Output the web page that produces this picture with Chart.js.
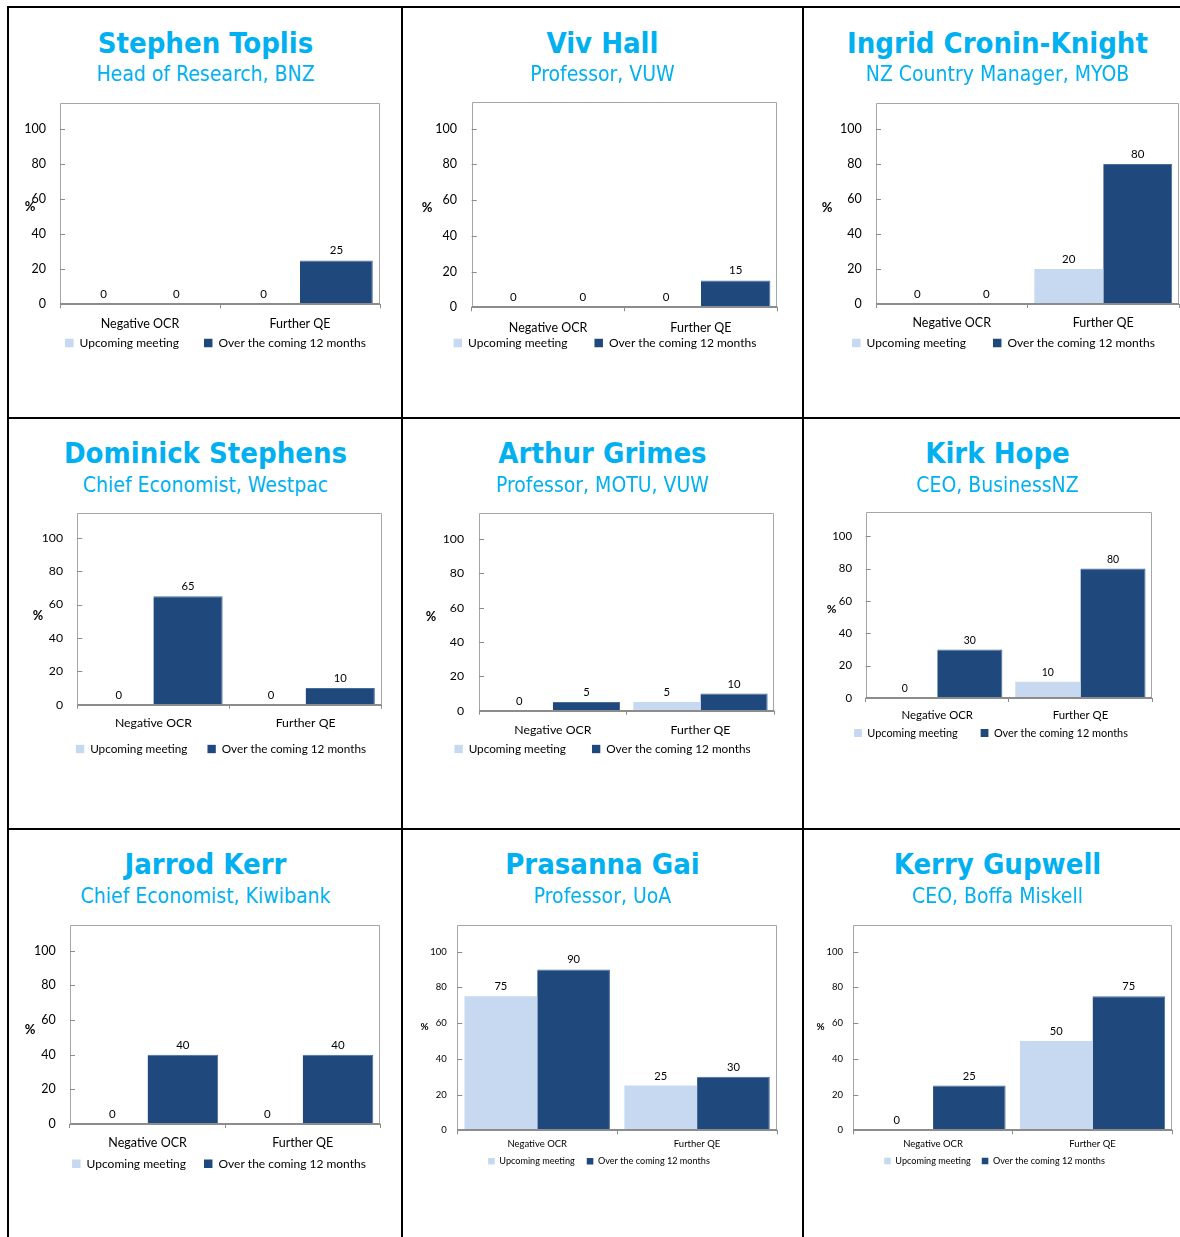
<!DOCTYPE html>
<html><head><meta charset="utf-8">
<script src="https://cdn.jsdelivr.net/npm/chart.js@4.4.1/dist/chart.umd.min.js"></script>
<style>
html,body{margin:0;padding:0;background:#fff;overflow:hidden;width:1180px;height:1237px;}
#page{position:relative;width:1180px;height:1237px;overflow:hidden;}
.ttl{position:absolute;text-align:center;color:#00B0F0;font-family:"DejaVu Sans Condensed","DejaVu Sans",sans-serif;font-weight:bold;font-size:29px;line-height:29px;white-space:nowrap;}
.sub{position:absolute;text-align:center;color:#00B0F0;font-family:"DejaVu Sans Condensed","DejaVu Sans",sans-serif;font-size:21px;line-height:21px;white-space:nowrap;}
.ln{position:absolute;background:#000;}
canvas{position:absolute;}
</style></head><body><div id="page"></div>
<script>
// ---- data ----
const names = ['Stephen Toplis','Viv Hall','Ingrid Cronin-Knight','Dominick Stephens','Arthur Grimes','Kirk Hope','Jarrod Kerr','Prasanna Gai','Kerry Gupwell'];
const roles = ['Head of Research, BNZ','Professor, VUW','NZ Country Manager, MYOB','Chief Economist, Westpac','Professor, MOTU, VUW','CEO, BusinessNZ','Chief Economist, Kiwibank','Professor, UoA','CEO, Boffa Miskell'];
const categories = ['Negative OCR','Further QE'];
const seriesNames = ['Upcoming meeting','Over the coming 12 months'];
const upcomingMeeting = [[0,0],[0,0],[0,20],[0,0],[0,5],[0,10],[0,0],[75,25],[0,50]];
const next12Months    = [[0,25],[0,15],[0,80],[65,10],[5,10],[30,80],[40,40],[90,30],[25,75]];
const yTicks = [0,20,40,60,80,100];
const yMax = 115;
const yLabel = '%';

// ---- layout (positions only) ----
const colLeft = [8,402,803], colWidth = [395,401,389];
const rowTitleBase = [53.5,463,874], rowSubBase = [81.7,493,904];
const layout = [
 {L:60,T:102.7,R:380,B:304.3,legCx:215.5,legCy:343,catCy:324,tickPad:14,legGap:25,pctX:30,pctY:207,s:1},
 {L:471.7,T:101.7,R:777.3,B:307.3,legCx:605,legCy:343,catCy:327.7,tickPad:14.7,legGap:27,pctX:427,pctY:208,s:1},
 {L:876,T:102.7,R:1179,B:304,legCx:1003.5,legCy:343,catCy:323,tickPad:14.3,legGap:27,pctX:827,pctY:208,s:1},
 {L:77.3,T:512.7,R:381.7,B:704.7,legCx:221,legCy:749,catCy:723,tickPad:14.3,legGap:20,pctX:38,pctY:616,s:0.98},
 {L:479,T:513,R:774.3,B:710.7,legCx:602.5,legCy:749,catCy:729.7,tickPad:15,legGap:26,pctX:431,pctY:617,s:0.98},
 {L:865.7,T:512,R:1152,B:698,legCx:991,legCy:733,catCy:715.7,tickPad:13.7,legGap:23,pctX:831.5,pctY:608.7,s:0.91},
 {L:70,T:924.7,R:380.3,B:1124,legCx:219,legCy:1163.7,catCy:1143,tickPad:14.3,legGap:18,pctX:30,pctY:1030,s:1},
 {L:457.3,T:924.7,R:777,B:1130.3,legCx:599,legCy:1161.3,catCy:1144,tickPad:10.6,legGap:12,pctX:424.5,pctY:1027,s:0.76},
 {L:853.3,T:924.7,R:1172.3,B:1130.3,legCx:994.5,legCy:1161,catCy:1144,tickPad:10.3,legGap:11,pctX:820.5,pctY:1027,s:0.76}
];
const FONT = 'Lato, "Open Sans", sans-serif';
const LIGHT = '#C6D9F1', DARK = '#1F497D', DARK_EDGE = '#4A6C98', AXIS = '#8C8C8C', FRAME = '#A6A6A6';

const page = document.getElementById('page');
function addLine(x,y,w,h){const d=document.createElement('div');d.className='ln';Object.assign(d.style,{left:x+'px',top:y+'px',width:w+'px',height:h+'px'});page.appendChild(d);}

const deco = {
  id:'deco',
  beforeDraw(chart){
    const sx = chart.scales.x;
    if (sx && typeof sx._computeLabelArea === 'function') sx._computeLabelArea = function(){ return undefined; };
  },
  afterDatasetsDraw(chart, args, o){
    const {ctx, chartArea:a, scales:{y}} = chart;
    ctx.save();
    ctx.strokeStyle = FRAME; ctx.lineWidth = 1;
    ctx.beginPath();
    ctx.moveTo(Math.round(a.left)+0.5, a.bottom); ctx.lineTo(Math.round(a.left)+0.5, Math.round(a.top)+0.5);
    ctx.lineTo(Math.round(a.right)-0.5, Math.round(a.top)+0.5); ctx.lineTo(Math.round(a.right)-0.5, a.bottom);
    ctx.stroke();
    ctx.strokeStyle = AXIS;
    y.ticks.forEach(t=>{const py=Math.round(y.getPixelForValue(t.value))+0.5;ctx.beginPath();ctx.moveTo(a.left,py);ctx.lineTo(a.left+5,py);ctx.stroke();});
    ctx.lineWidth = 2; ctx.beginPath(); ctx.moveTo(a.left, Math.round(a.bottom)); ctx.lineTo(a.right, Math.round(a.bottom)); ctx.stroke();
    ctx.fillStyle = '#000'; ctx.textAlign = 'center'; ctx.textBaseline = 'bottom';
    ctx.font = o.valFs + 'px ' + FONT;
    chart.data.datasets.forEach((ds,di)=>{
      chart.getDatasetMeta(di).data.forEach((bar,j)=>{ ctx.fillText(String(ds.data[j]), bar.x, bar.y - 4); });
    });
    ctx.font = 'bold ' + o.pctFs + 'px ' + FONT; ctx.textBaseline = 'middle';
    ctx.fillText(yLabel, o.pctX, o.pctY);
    ctx.restore();
  }
};

names.forEach((nm,i)=>{
  const c = i%3, r = Math.floor(i/3), g = layout[i];
  const t = document.createElement('div'); t.className='ttl'; t.textContent = nm;
  Object.assign(t.style,{left:colLeft[c]+'px',width:colWidth[c]+'px',top:(rowTitleBase[r]-24.5)+'px'}); page.appendChild(t);
  const sb = document.createElement('div'); sb.className='sub'; sb.textContent = roles[i];
  Object.assign(sb.style,{left:colLeft[c]+'px',width:colWidth[c]+'px',top:(rowSubBase[r]-17.8)+'px'}); page.appendChild(sb);

  const s = g.s;
  const tickFs = 12.5*s, catFs = 12.5*s, legFs = 12*s, valFs = 11.5*(s<0.8?0.97:s), pctFs = 13*s;
  const x0 = colLeft[c] + 3, y0 = Math.floor(g.T - 30), padT = g.T - y0;
  const w = Math.round(2*(g.legCx - x0));
  const rightW = w - (g.R - x0);
  const yW = g.L - x0;
  const legTop = g.legCy - g.legGap - legFs/2;
  const hRaw = g.legCy + legFs/2 + 10 - y0;
  const h = Math.ceil(hRaw);
  const padB = h - hRaw;
  const xH = legTop - g.B;
  const catPad = g.catCy - g.B - 4 - catFs*1.2/2;

  const cv = document.createElement('canvas');
  cv.width = w; cv.height = h;
  Object.assign(cv.style,{left:x0+'px',top:y0+'px',width:w+'px',height:h+'px'});
  page.appendChild(cv);

  new Chart(cv.getContext('2d'), {
    type:'bar',
    data:{
      labels: categories,
      datasets:[
        {label:seriesNames[0], data:upcomingMeeting[i], backgroundColor:LIGHT, borderWidth:0, yAxisID:'y'},
        {label:seriesNames[1], data:next12Months[i], backgroundColor:DARK, borderColor:DARK_EDGE, borderWidth:{top:1,right:1,left:0,bottom:0}, borderSkipped:'bottom', yAxisID:'y'}
      ]
    },
    options:{
      responsive:false, animation:false, devicePixelRatio:1,
      categoryPercentage:0.91, barPercentage:1.0,
      layout:{padding:{left:0, right:0, top:padT, bottom:padB}},
      plugins:{
        tooltip:{enabled:false},
        legend:{position:'bottom', align:'center',
          labels:{boxWidth:8*s+0.5, boxHeight:8*s+0.5, padding:g.legGap, color:'#000', font:{family:FONT, size:legFs},
            generateLabels(chart){
              return chart.data.datasets.map((ds,k)=>({text:ds.label, fillStyle:ds.backgroundColor, strokeStyle:ds.backgroundColor, lineWidth:0, hidden:false, datasetIndex:k, fontColor:'#000'}));
            }}},
        deco:{valFs:valFs, pctFs:pctFs, pctX:g.pctX - x0, pctY:g.pctY - y0}
      },
      scales:{
        x:{
          grid:{display:true, drawOnChartArea:false, drawTicks:true, tickLength:4, color:AXIS, offset:true},
          border:{display:false},
          ticks:{color:'#000', font:{family:FONT, size:catFs}, padding:catPad, maxRotation:0, autoSkip:false},
          afterFit(sc){ sc.height = xH; }
        },
        y:{
          position:'left', min:0, max:yMax,
          grid:{display:false, drawTicks:false}, border:{display:false},
          ticks:{color:'#000', font:{family:FONT, size:tickFs}, padding:g.tickPad},
          afterBuildTicks(sc){ sc.ticks = yTicks.map(v=>({value:v})); },
          afterFit(sc){ sc.width = yW; }
        },
        spacer:{
          type:'linear', position:'right', display:true,
          grid:{display:false, drawTicks:false}, border:{display:false}, ticks:{display:false},
          afterFit(sc){ sc.width = rightW; }
        }
      }
    },
    plugins:[deco]
  });
});

addLine(7,6,1180,2); addLine(7,417,1180,2); addLine(7,828,1180,2);
addLine(7,6,2,1240); addLine(401,6,2,1240); addLine(802,6,2,1240);
</script>
</body></html>
